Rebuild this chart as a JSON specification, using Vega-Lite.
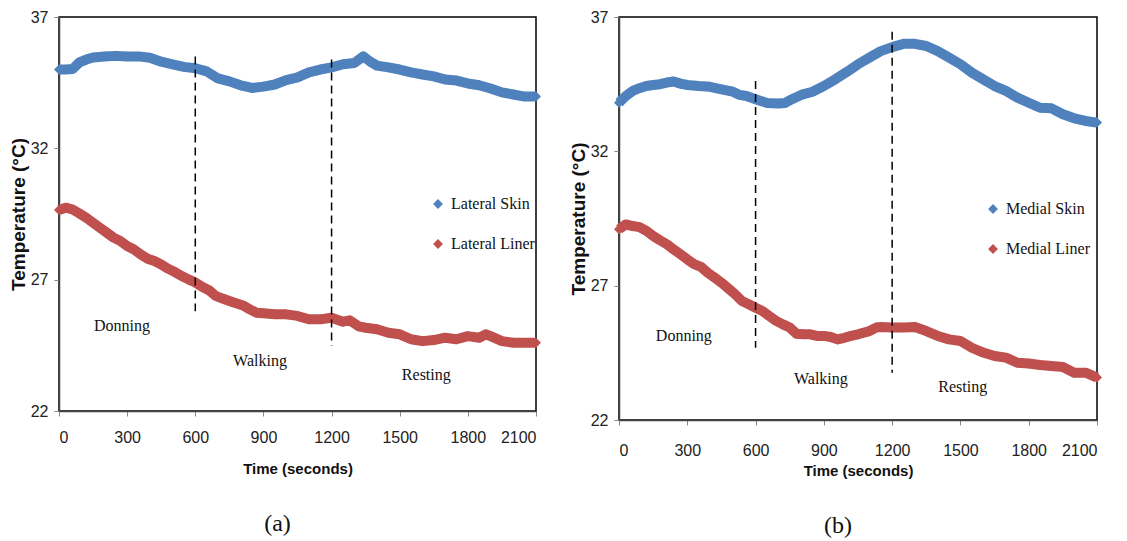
{
"$schema": "https://vega.github.io/schema/vega-lite/v6.json",
"background": "white",
"padding": {"left": 8, "top": 8, "right": 10, "bottom": 5},
"config": {
  "view": {"stroke": "black", "strokeWidth": 1.5},
  "axis": {"labelFont": "Liberation Sans Narrow, Liberation Sans", "labelFontSize": 16, "labelColor": "#222", "titleFont": "Liberation Sans", "titleFontSize": 15, "titleFontWeight": "bold", "titleColor": "#111", "grid": false, "tickColor": "#888", "tickSize": 5, "domainColor": "#444", "domainWidth": 1.5, "format": "d"},
  "axisY": {"titleFontSize": 19},
  "legend": {"orient": "none", "title": null, "labelFont": "Liberation Serif", "labelFontSize": 16, "labelColor": "#111", "symbolType": "diamond", "symbolSize": 60, "rowPadding": 24, "padding": 0, "labelOffset": 5}
},
"datasets": {
  "lat": [
{"t":0,"s":"Lateral Skin","v":35.0},{"t":30,"s":"Lateral Skin","v":35.0},{"t":60,"s":"Lateral Skin","v":35.02},{"t":90,"s":"Lateral Skin","v":35.27},{"t":120,"s":"Lateral Skin","v":35.38},{"t":150,"s":"Lateral Skin","v":35.46},{"t":200,"s":"Lateral Skin","v":35.5},{"t":250,"s":"Lateral Skin","v":35.52},{"t":300,"s":"Lateral Skin","v":35.5},{"t":350,"s":"Lateral Skin","v":35.5},{"t":400,"s":"Lateral Skin","v":35.45},{"t":450,"s":"Lateral Skin","v":35.3},{"t":500,"s":"Lateral Skin","v":35.2},{"t":550,"s":"Lateral Skin","v":35.1},{"t":600,"s":"Lateral Skin","v":35.05},{"t":650,"s":"Lateral Skin","v":34.93},{"t":700,"s":"Lateral Skin","v":34.66},{"t":750,"s":"Lateral Skin","v":34.55},{"t":800,"s":"Lateral Skin","v":34.4},{"t":850,"s":"Lateral Skin","v":34.3},{"t":900,"s":"Lateral Skin","v":34.35},{"t":950,"s":"Lateral Skin","v":34.43},{"t":1000,"s":"Lateral Skin","v":34.6},{"t":1050,"s":"Lateral Skin","v":34.7},{"t":1100,"s":"Lateral Skin","v":34.89},{"t":1150,"s":"Lateral Skin","v":35.0},{"t":1200,"s":"Lateral Skin","v":35.08},{"t":1250,"s":"Lateral Skin","v":35.2},{"t":1300,"s":"Lateral Skin","v":35.25},{"t":1340,"s":"Lateral Skin","v":35.5},{"t":1370,"s":"Lateral Skin","v":35.3},{"t":1400,"s":"Lateral Skin","v":35.15},{"t":1450,"s":"Lateral Skin","v":35.08},{"t":1500,"s":"Lateral Skin","v":35.0},{"t":1550,"s":"Lateral Skin","v":34.89},{"t":1600,"s":"Lateral Skin","v":34.81},{"t":1650,"s":"Lateral Skin","v":34.74},{"t":1700,"s":"Lateral Skin","v":34.62},{"t":1750,"s":"Lateral Skin","v":34.58},{"t":1800,"s":"Lateral Skin","v":34.47},{"t":1850,"s":"Lateral Skin","v":34.4},{"t":1900,"s":"Lateral Skin","v":34.28},{"t":1950,"s":"Lateral Skin","v":34.13},{"t":2000,"s":"Lateral Skin","v":34.05},{"t":2050,"s":"Lateral Skin","v":33.97},{"t":2100,"s":"Lateral Skin","v":33.97},
{"t":0,"s":"Lateral Liner","v":29.65},{"t":30,"s":"Lateral Liner","v":29.74},{"t":60,"s":"Lateral Liner","v":29.67},{"t":90,"s":"Lateral Liner","v":29.52},{"t":120,"s":"Lateral Liner","v":29.36},{"t":150,"s":"Lateral Liner","v":29.17},{"t":180,"s":"Lateral Liner","v":28.98},{"t":210,"s":"Lateral Liner","v":28.79},{"t":240,"s":"Lateral Liner","v":28.6},{"t":270,"s":"Lateral Liner","v":28.47},{"t":300,"s":"Lateral Liner","v":28.28},{"t":330,"s":"Lateral Liner","v":28.15},{"t":360,"s":"Lateral Liner","v":27.96},{"t":390,"s":"Lateral Liner","v":27.8},{"t":420,"s":"Lateral Liner","v":27.71},{"t":450,"s":"Lateral Liner","v":27.58},{"t":480,"s":"Lateral Liner","v":27.42},{"t":510,"s":"Lateral Liner","v":27.29},{"t":540,"s":"Lateral Liner","v":27.14},{"t":570,"s":"Lateral Liner","v":27.01},{"t":600,"s":"Lateral Liner","v":26.89},{"t":630,"s":"Lateral Liner","v":26.73},{"t":660,"s":"Lateral Liner","v":26.6},{"t":690,"s":"Lateral Liner","v":26.38},{"t":720,"s":"Lateral Liner","v":26.28},{"t":750,"s":"Lateral Liner","v":26.19},{"t":780,"s":"Lateral Liner","v":26.1},{"t":810,"s":"Lateral Liner","v":26.02},{"t":840,"s":"Lateral Liner","v":25.87},{"t":870,"s":"Lateral Liner","v":25.74},{"t":900,"s":"Lateral Liner","v":25.72},{"t":950,"s":"Lateral Liner","v":25.68},{"t":1000,"s":"Lateral Liner","v":25.68},{"t":1050,"s":"Lateral Liner","v":25.62},{"t":1100,"s":"Lateral Liner","v":25.49},{"t":1150,"s":"Lateral Liner","v":25.49},{"t":1200,"s":"Lateral Liner","v":25.55},{"t":1250,"s":"Lateral Liner","v":25.4},{"t":1280,"s":"Lateral Liner","v":25.45},{"t":1320,"s":"Lateral Liner","v":25.22},{"t":1350,"s":"Lateral Liner","v":25.17},{"t":1400,"s":"Lateral Liner","v":25.11},{"t":1450,"s":"Lateral Liner","v":24.98},{"t":1500,"s":"Lateral Liner","v":24.92},{"t":1550,"s":"Lateral Liner","v":24.73},{"t":1600,"s":"Lateral Liner","v":24.66},{"t":1650,"s":"Lateral Liner","v":24.7},{"t":1700,"s":"Lateral Liner","v":24.79},{"t":1750,"s":"Lateral Liner","v":24.73},{"t":1800,"s":"Lateral Liner","v":24.85},{"t":1850,"s":"Lateral Liner","v":24.79},{"t":1880,"s":"Lateral Liner","v":24.92},{"t":1900,"s":"Lateral Liner","v":24.85},{"t":1950,"s":"Lateral Liner","v":24.66},{"t":2000,"s":"Lateral Liner","v":24.6},{"t":2050,"s":"Lateral Liner","v":24.6},{"t":2100,"s":"Lateral Liner","v":24.6}
  ],
  "med": [
{"t":0,"s":"Medial Skin","v":33.81},{"t":30,"s":"Medial Skin","v":34.06},{"t":60,"s":"Medial Skin","v":34.25},{"t":90,"s":"Medial Skin","v":34.35},{"t":120,"s":"Medial Skin","v":34.43},{"t":150,"s":"Medial Skin","v":34.47},{"t":180,"s":"Medial Skin","v":34.5},{"t":210,"s":"Medial Skin","v":34.56},{"t":240,"s":"Medial Skin","v":34.6},{"t":270,"s":"Medial Skin","v":34.52},{"t":300,"s":"Medial Skin","v":34.47},{"t":350,"s":"Medial Skin","v":34.43},{"t":400,"s":"Medial Skin","v":34.4},{"t":450,"s":"Medial Skin","v":34.31},{"t":500,"s":"Medial Skin","v":34.22},{"t":530,"s":"Medial Skin","v":34.1},{"t":560,"s":"Medial Skin","v":34.06},{"t":600,"s":"Medial Skin","v":33.94},{"t":650,"s":"Medial Skin","v":33.8},{"t":700,"s":"Medial Skin","v":33.78},{"t":730,"s":"Medial Skin","v":33.8},{"t":760,"s":"Medial Skin","v":33.94},{"t":800,"s":"Medial Skin","v":34.1},{"t":850,"s":"Medial Skin","v":34.22},{"t":900,"s":"Medial Skin","v":34.43},{"t":950,"s":"Medial Skin","v":34.68},{"t":1000,"s":"Medial Skin","v":34.95},{"t":1050,"s":"Medial Skin","v":35.24},{"t":1100,"s":"Medial Skin","v":35.49},{"t":1150,"s":"Medial Skin","v":35.73},{"t":1200,"s":"Medial Skin","v":35.88},{"t":1250,"s":"Medial Skin","v":36.0},{"t":1300,"s":"Medial Skin","v":36.0},{"t":1350,"s":"Medial Skin","v":35.92},{"t":1400,"s":"Medial Skin","v":35.73},{"t":1450,"s":"Medial Skin","v":35.49},{"t":1500,"s":"Medial Skin","v":35.24},{"t":1550,"s":"Medial Skin","v":34.93},{"t":1600,"s":"Medial Skin","v":34.68},{"t":1650,"s":"Medial Skin","v":34.43},{"t":1700,"s":"Medial Skin","v":34.25},{"t":1750,"s":"Medial Skin","v":34.0},{"t":1800,"s":"Medial Skin","v":33.81},{"t":1850,"s":"Medial Skin","v":33.62},{"t":1900,"s":"Medial Skin","v":33.6},{"t":1950,"s":"Medial Skin","v":33.38},{"t":2000,"s":"Medial Skin","v":33.23},{"t":2050,"s":"Medial Skin","v":33.13},{"t":2100,"s":"Medial Skin","v":33.07},
{"t":0,"s":"Medial Liner","v":29.1},{"t":30,"s":"Medial Liner","v":29.28},{"t":60,"s":"Medial Liner","v":29.22},{"t":90,"s":"Medial Liner","v":29.18},{"t":120,"s":"Medial Liner","v":29.04},{"t":150,"s":"Medial Liner","v":28.85},{"t":180,"s":"Medial Liner","v":28.69},{"t":210,"s":"Medial Liner","v":28.54},{"t":240,"s":"Medial Liner","v":28.35},{"t":270,"s":"Medial Liner","v":28.17},{"t":300,"s":"Medial Liner","v":27.98},{"t":330,"s":"Medial Liner","v":27.8},{"t":360,"s":"Medial Liner","v":27.7},{"t":390,"s":"Medial Liner","v":27.48},{"t":420,"s":"Medial Liner","v":27.3},{"t":450,"s":"Medial Liner","v":27.11},{"t":480,"s":"Medial Liner","v":26.9},{"t":510,"s":"Medial Liner","v":26.68},{"t":540,"s":"Medial Liner","v":26.43},{"t":570,"s":"Medial Liner","v":26.31},{"t":600,"s":"Medial Liner","v":26.18},{"t":630,"s":"Medial Liner","v":26.06},{"t":660,"s":"Medial Liner","v":25.87},{"t":690,"s":"Medial Liner","v":25.69},{"t":720,"s":"Medial Liner","v":25.56},{"t":750,"s":"Medial Liner","v":25.44},{"t":780,"s":"Medial Liner","v":25.21},{"t":810,"s":"Medial Liner","v":25.19},{"t":840,"s":"Medial Liner","v":25.19},{"t":870,"s":"Medial Liner","v":25.13},{"t":900,"s":"Medial Liner","v":25.13},{"t":930,"s":"Medial Liner","v":25.09},{"t":960,"s":"Medial Liner","v":25.0},{"t":990,"s":"Medial Liner","v":25.06},{"t":1020,"s":"Medial Liner","v":25.13},{"t":1050,"s":"Medial Liner","v":25.19},{"t":1100,"s":"Medial Liner","v":25.31},{"t":1130,"s":"Medial Liner","v":25.44},{"t":1150,"s":"Medial Liner","v":25.46},{"t":1200,"s":"Medial Liner","v":25.44},{"t":1250,"s":"Medial Liner","v":25.44},{"t":1300,"s":"Medial Liner","v":25.46},{"t":1350,"s":"Medial Liner","v":25.31},{"t":1400,"s":"Medial Liner","v":25.13},{"t":1450,"s":"Medial Liner","v":25.0},{"t":1500,"s":"Medial Liner","v":24.94},{"t":1550,"s":"Medial Liner","v":24.69},{"t":1600,"s":"Medial Liner","v":24.51},{"t":1650,"s":"Medial Liner","v":24.38},{"t":1700,"s":"Medial Liner","v":24.32},{"t":1750,"s":"Medial Liner","v":24.13},{"t":1800,"s":"Medial Liner","v":24.1},{"t":1850,"s":"Medial Liner","v":24.05},{"t":1900,"s":"Medial Liner","v":24.01},{"t":1950,"s":"Medial Liner","v":23.97},{"t":2000,"s":"Medial Liner","v":23.76},{"t":2050,"s":"Medial Liner","v":23.76},{"t":2100,"s":"Medial Liner","v":23.58}
  ],
  "rulesA": [{"t":600,"y1":35.5,"y2":25.8},{"t":1200,"y1":35.38,"y2":24.47}],
  "rulesB": [{"t":600,"y1":34.62,"y2":24.69},{"t":1200,"y1":36.45,"y2":23.76}],
  "textA": [{"t":277,"v":25.22,"label":"Donning"},{"t":885,"v":23.89,"label":"Walking"},{"t":1617,"v":23.36,"label":"Resting"}],
  "textB": [{"t":285,"v":25.13,"label":"Donning"},{"t":887,"v":23.53,"label":"Walking"},{"t":1510,"v":23.23,"label":"Resting"}]
},
"spacing": 26,
"resolve": {"scale": {"x": "independent", "y": "independent", "color": "independent"}, "legend": {"color": "independent"}},
"hconcat": [
  {
    "width": 477, "height": 394,
    "title": {"text": "(a)", "orient": "bottom", "font": "Liberation Serif", "fontSize": 24, "fontWeight": "normal", "color": "#111", "dx": -20, "offset": 36},
    "layer": [
      {"data": {"name": "lat"}, "mark": {"type": "point", "shape": "diamond", "filled": true, "size": 100, "opacity": 1},
       "encoding": {
         "x": {"field": "t", "type": "quantitative", "scale": {"domain": [0, 2100], "nice": false}, "axis": {"values": [0,300,600,900,1200,1500,1800,2100], "title": "Time (seconds)", "labelPadding": 13, "titlePadding": 16}},
         "y": {"field": "v", "type": "quantitative", "scale": {"domain": [22, 37], "nice": false, "zero": false}, "axis": {"values": [22,27,32,37], "title": "Temperature (°C)", "labelPadding": 6, "titlePadding": 2}},
         "color": {"field": "s", "type": "nominal", "scale": {"domain": ["Lateral Skin", "Lateral Liner"], "range": ["#4F81BD", "#C0504D"]}, "legend": {"legendX": 371, "legendY": 179}}
       }},
      {"data": {"name": "lat"}, "mark": {"type": "line", "strokeWidth": 10, "strokeJoin": "round"},
       "encoding": {
         "x": {"field": "t", "type": "quantitative"},
         "y": {"field": "v", "type": "quantitative"},
         "color": {"field": "s", "type": "nominal"}
       }},
      {"data": {"name": "rulesA"}, "mark": {"type": "rule", "color": "black", "strokeWidth": 1.5, "strokeDash": [8, 5]},
       "encoding": {"x": {"field": "t", "type": "quantitative"}, "y": {"field": "y1", "type": "quantitative"}, "y2": {"field": "y2"}}},
      {"data": {"name": "textA"}, "mark": {"type": "text", "font": "Liberation Serif", "fontSize": 16, "color": "#111"},
       "encoding": {"x": {"field": "t", "type": "quantitative"}, "y": {"field": "v", "type": "quantitative"}, "text": {"field": "label"}}}
    ]
  },
  {
    "width": 478, "height": 403,
    "title": {"text": "(b)", "orient": "bottom", "font": "Liberation Serif", "fontSize": 24, "fontWeight": "normal", "color": "#111", "dx": -20, "offset": 36},
    "layer": [
      {"data": {"name": "med"}, "mark": {"type": "point", "shape": "diamond", "filled": true, "size": 100, "opacity": 1},
       "encoding": {
         "x": {"field": "t", "type": "quantitative", "scale": {"domain": [0, 2100], "nice": false}, "axis": {"values": [0,300,600,900,1200,1500,1800,2100], "title": "Time (seconds)", "labelPadding": 17, "titlePadding": 5}},
         "y": {"field": "v", "type": "quantitative", "scale": {"domain": [22, 37], "nice": false, "zero": false}, "axis": {"values": [22,27,32,37], "title": "Temperature (°C)", "labelPadding": 6, "titlePadding": 2}},
         "color": {"field": "s", "type": "nominal", "scale": {"domain": ["Medial Skin", "Medial Liner"], "range": ["#4F81BD", "#C0504D"]}, "legend": {"legendX": 366, "legendY": 184}}
       }},
      {"data": {"name": "med"}, "mark": {"type": "line", "strokeWidth": 10, "strokeJoin": "round"},
       "encoding": {
         "x": {"field": "t", "type": "quantitative"},
         "y": {"field": "v", "type": "quantitative"},
         "color": {"field": "s", "type": "nominal"}
       }},
      {"data": {"name": "rulesB"}, "mark": {"type": "rule", "color": "black", "strokeWidth": 1.5, "strokeDash": [8, 5]},
       "encoding": {"x": {"field": "t", "type": "quantitative"}, "y": {"field": "y1", "type": "quantitative"}, "y2": {"field": "y2"}}},
      {"data": {"name": "textB"}, "mark": {"type": "text", "font": "Liberation Serif", "fontSize": 16, "color": "#111"},
       "encoding": {"x": {"field": "t", "type": "quantitative"}, "y": {"field": "v", "type": "quantitative"}, "text": {"field": "label"}}}
    ]
  }
]
}
